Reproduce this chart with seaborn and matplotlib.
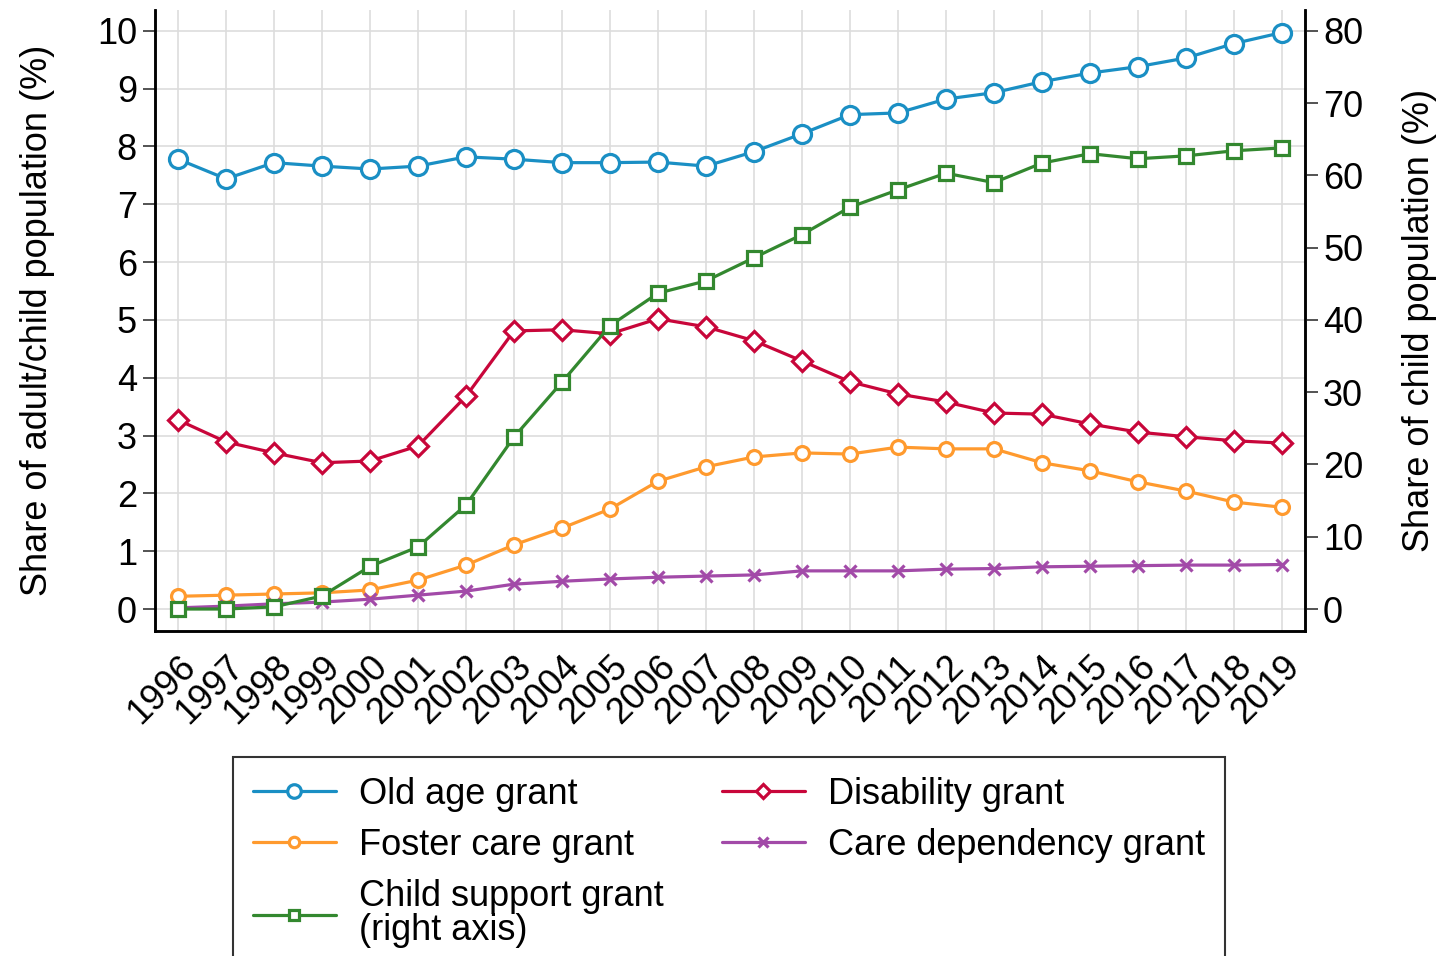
import matplotlib
matplotlib.use("Agg")
import matplotlib.pyplot as plt
import seaborn as sns

# Data
years = list(range(1996, 2020))

old_age = [7.78, 7.44, 7.72, 7.66, 7.61, 7.66, 7.82, 7.78, 7.72, 7.72, 7.73, 7.66,
           7.91, 8.22, 8.55, 8.58, 8.82, 8.93, 9.12, 9.27, 9.38, 9.53, 9.78, 9.97]
foster_care = [0.22, 0.24, 0.26, 0.28, 0.33, 0.50, 0.76, 1.11, 1.40, 1.73, 2.21, 2.46,
               2.63, 2.70, 2.68, 2.80, 2.77, 2.77, 2.53, 2.39, 2.20, 2.04, 1.85, 1.76]
disability = [3.27, 2.89, 2.70, 2.53, 2.56, 2.82, 3.68, 4.81, 4.83, 4.76, 5.02, 4.88,
              4.64, 4.29, 3.93, 3.72, 3.58, 3.39, 3.37, 3.20, 3.06, 2.98, 2.91, 2.87]
care_dependency = [0.02, 0.05, 0.09, 0.12, 0.17, 0.24, 0.31, 0.43, 0.48, 0.52, 0.55, 0.57,
                   0.59, 0.66, 0.66, 0.66, 0.69, 0.70, 0.73, 0.74, 0.75, 0.76, 0.76, 0.77]
child_support = [0.0, 0.0, 0.3, 1.8, 5.9, 8.6, 14.4, 23.8, 31.4, 39.2, 43.7, 45.4,
                 48.6, 51.8, 55.6, 58.0, 60.3, 59.0, 61.7, 63.0, 62.3, 62.7, 63.4, 63.8]

left_ticks = list(range(0, 11))
right_ticks = list(range(0, 81, 10))

blue = "#1a8fc4"
orange = "#ff9a2e"
green = "#33882f"
red = "#c8063a"
purple = "#a24aa8"

sns.set_theme(style="white")
plt.rcParams["font.family"] = ["Liberation Sans", "DejaVu Sans"]
plt.rcParams["text.color"] = "black"
plt.rcParams["axes.labelcolor"] = "black"
plt.rcParams["xtick.color"] = "black"
plt.rcParams["ytick.color"] = "black"

fs = 26

fig = plt.figure(figsize=(14.44, 9.56), dpi=100)
ax = fig.add_axes([155 / 1444, 1 - 631 / 956, 1150 / 1444, 621 / 956])
ax2 = ax.twinx()

lw = 2.3
mew = 2.3


def draw(axis, vals, color, marker, ms, label):
    sns.lineplot(x=years, y=vals, ax=axis, color=color, linewidth=lw, marker=marker,
                 markersize=ms, markerfacecolor="white", markeredgecolor=color,
                 markeredgewidth=mew, label=label, legend=False)


draw(ax, old_age, blue, "o", 13, "Old age grant")
draw(ax, foster_care, orange, "o", 10, "Foster care grant")
draw(ax, disability, red, "D", 10, "Disability grant")
draw(ax, care_dependency, purple, "x", 9, "Care dependency grant")
draw(ax2, child_support, green, "s", 10, "Child support grant\n(right axis)")

ax.set_xlim(1995.52, 2019.48)
ax.set_ylim(-0.38, 10.36)
ax2.set_ylim(-0.38 * 8, 10.36 * 8)

ax.set_xticks(years)
ax.set_xticklabels([str(y) for y in years], rotation=45, ha="right",
                   rotation_mode="anchor", fontsize=fs)
ax.set_yticks(left_ticks)
ax.set_yticklabels([str(t) for t in left_ticks], fontsize=fs)
ax2.set_yticks(right_ticks)
ax2.set_yticklabels([str(t) for t in right_ticks], fontsize=fs)

ax.grid(True, color="#dddddd", linewidth=1.2)
ax.set_axisbelow(True)
ax.tick_params(axis="x", length=9, width=1.3, color="#666666", pad=4)
ax.tick_params(axis="y", length=9, width=1.3, color="#444444", pad=4, left=True)
ax2.tick_params(axis="y", length=9, width=1.3, color="#444444", pad=4, right=True)

for a in (ax, ax2):
    a.spines["top"].set_visible(False)
    for s in ("left", "right", "bottom"):
        a.spines[s].set_color("black")
        a.spines[s].set_linewidth(1.8)

ax.set_xlabel("")
ax.set_ylabel("Share of adult/child population (%)", fontsize=fs, labelpad=30)
ax2.set_ylabel("Share of child population (%)", fontsize=fs, labelpad=28)

h1, l1 = ax.get_legend_handles_labels()
h2, l2 = ax2.get_legend_handles_labels()
by_label = dict(zip(l1 + l2, h1 + h2))
order = ["Old age grant", "Foster care grant", "Child support grant\n(right axis)",
         "Disability grant", "Care dependency grant"]
leg = fig.legend([by_label[k] for k in order], order, ncol=2,
                 loc="upper left", bbox_to_anchor=(233 / 1444, 1 - 757 / 956),
                 fontsize=fs, frameon=True, fancybox=False, edgecolor="black",
                 handlelength=2.3, markerscale=0.75, columnspacing=1.6,
                 labelspacing=0.45, borderpad=0.55, handletextpad=0.65,
                 borderaxespad=0)
leg.get_frame().set_linewidth(1.5)
for t in leg.get_texts():
    t.set_linespacing(0.95)

fig.savefig("out.png", dpi=100)
